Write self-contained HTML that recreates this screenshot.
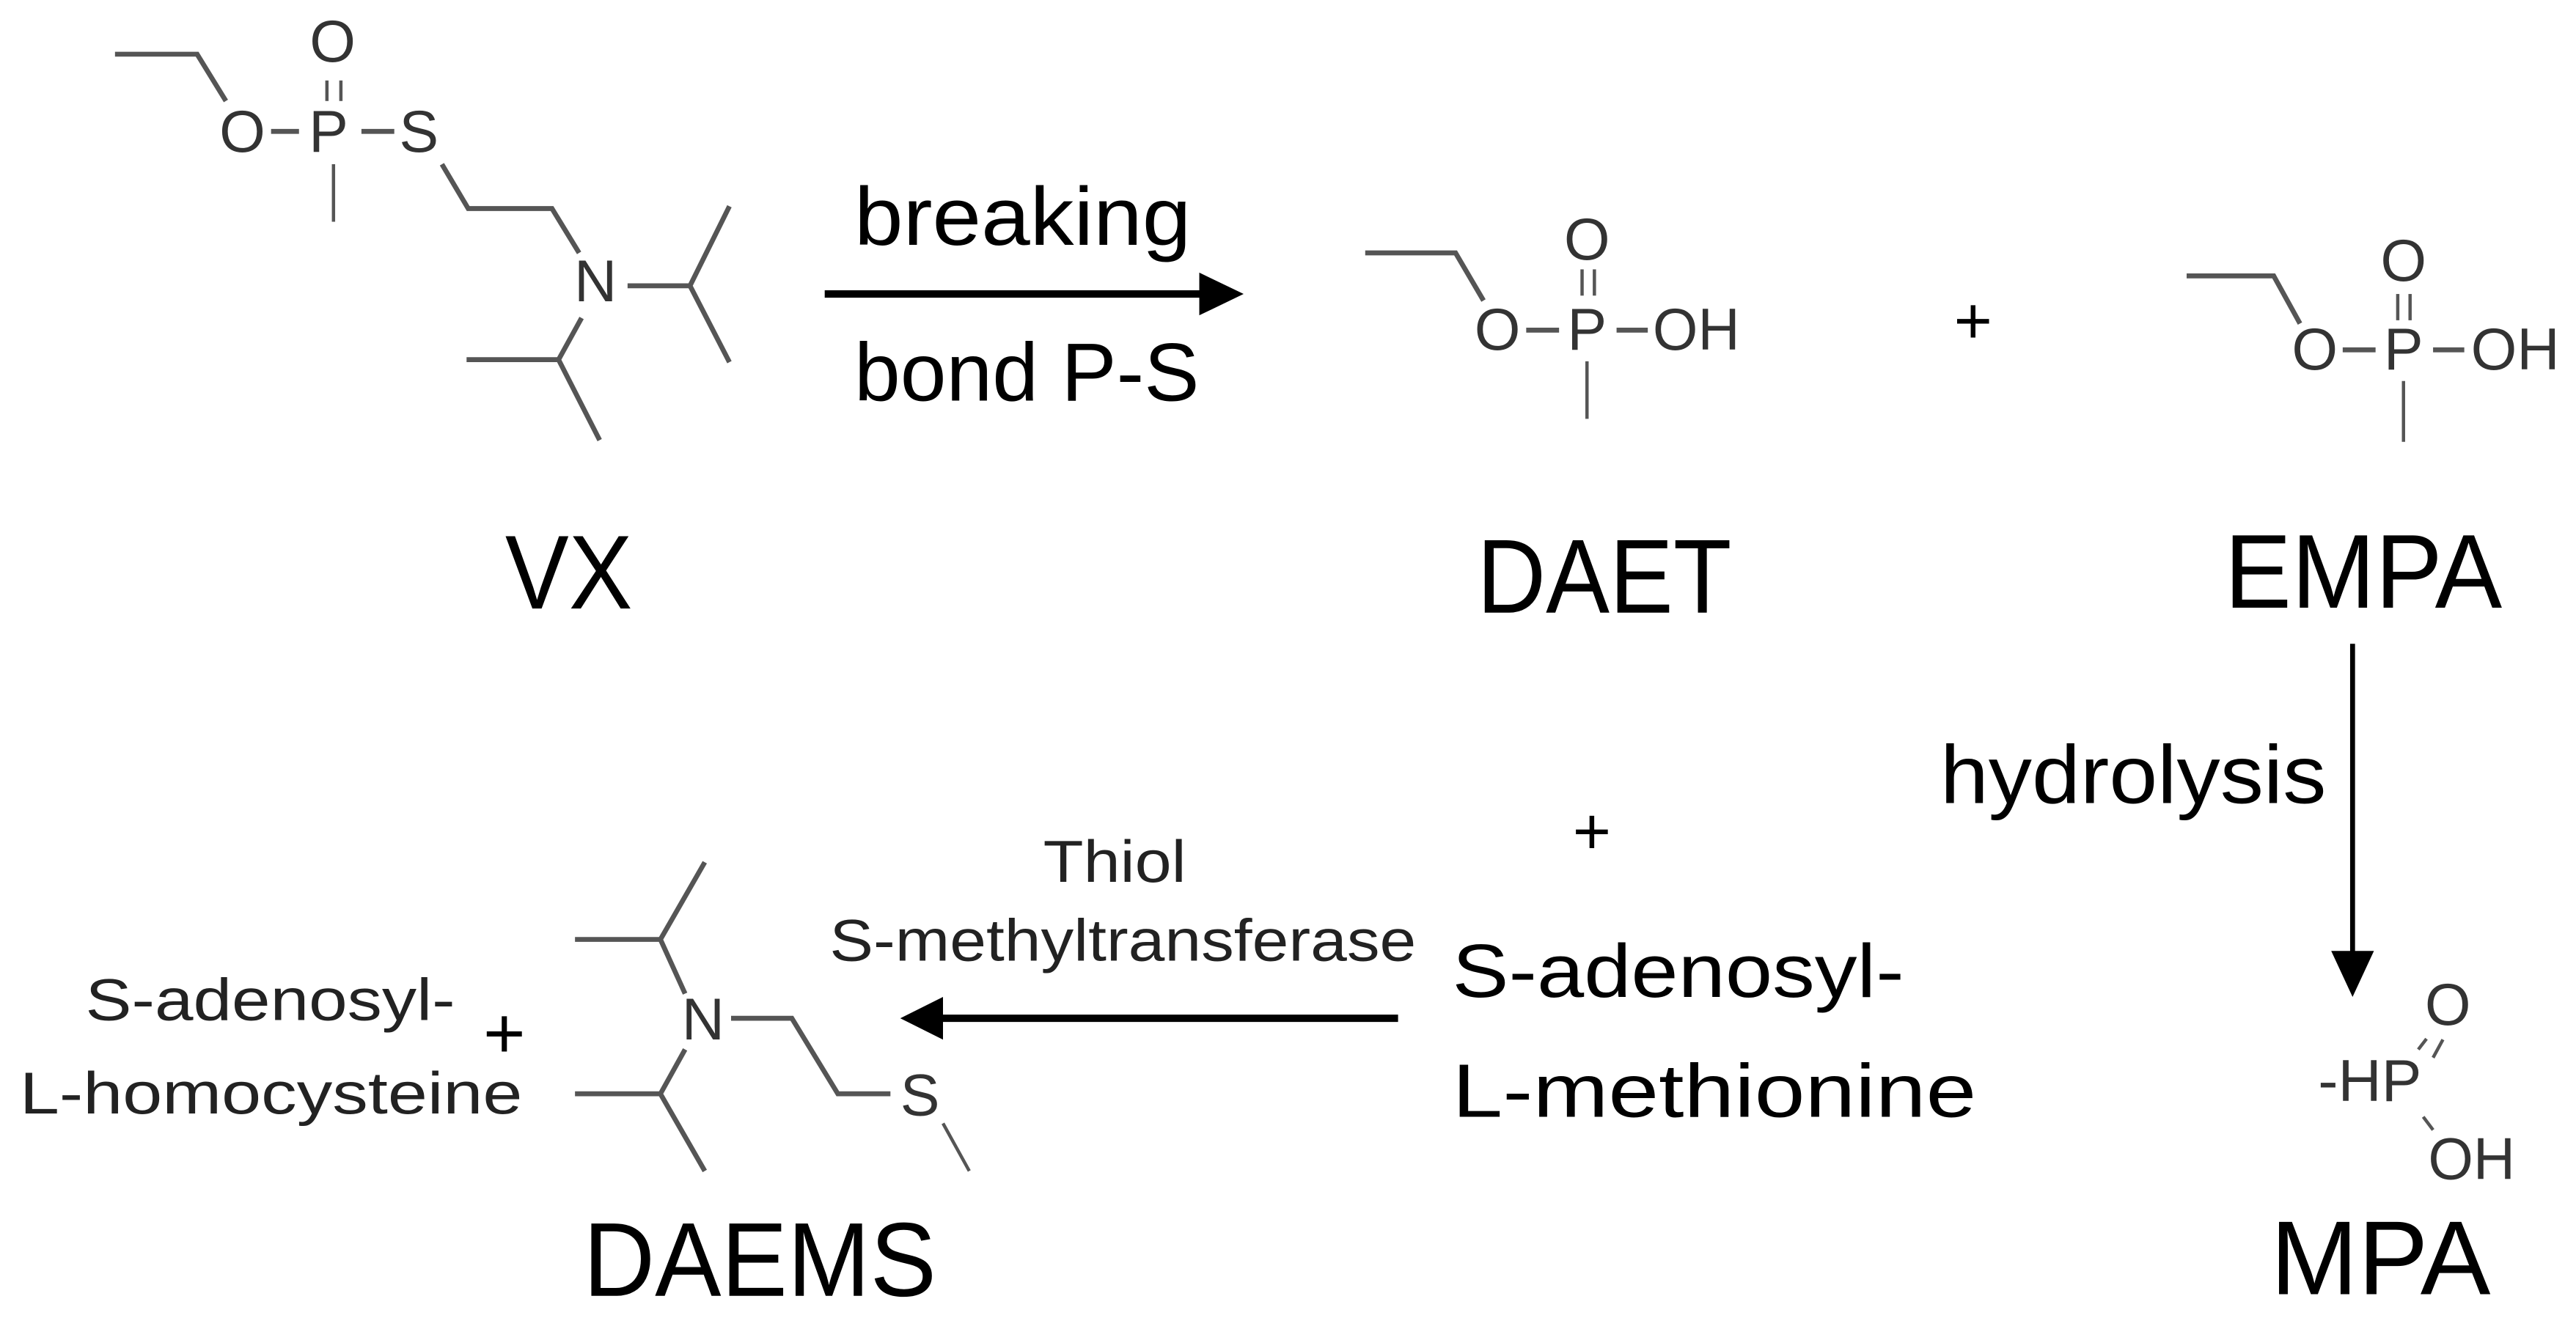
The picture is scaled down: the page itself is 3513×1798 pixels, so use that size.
<!DOCTYPE html>
<html><head><meta charset="utf-8"><style>
html,body{margin:0;padding:0;background:#fff;}
svg{display:block;}
text{font-family:"Liberation Sans",sans-serif;}
</style></head><body>
<svg width="3513" height="1798" viewBox="0 0 1568 802.5" preserveAspectRatio="none" xmlns="http://www.w3.org/2000/svg">
<rect width="1568" height="802.5" fill="#fff"/>
<g stroke="#555" stroke-width="3" fill="none" stroke-linecap="butt">
<!-- VX -->
<polyline points="70,33 120,33 137.5,61.5"/>
<line x1="165" y1="80" x2="182" y2="80"/>
<line x1="220" y1="80" x2="240" y2="80"/>
<line x1="199" y1="49" x2="199" y2="61.5" stroke-width="2"/>
<line x1="207.5" y1="49" x2="207.5" y2="61.5" stroke-width="2"/>
<line x1="203" y1="100" x2="203" y2="135" stroke-width="2"/>
<polyline points="269,100 285,127 336,127 352.5,154"/>
<line x1="382" y1="174" x2="420" y2="174"/>
<polyline points="444,125.6 420,174 444,220.5"/>
<polyline points="354,193.6 340,219 365,268"/>
<line x1="284" y1="219" x2="340" y2="219"/>
<!-- DAET -->
<polyline points="831,154 886,154 903,183"/>
<line x1="929" y1="201" x2="949" y2="201"/>
<line x1="984" y1="201" x2="1003" y2="201"/>
<line x1="963" y1="164" x2="963" y2="180" stroke-width="2"/>
<line x1="970.5" y1="164" x2="970.5" y2="180" stroke-width="2"/>
<line x1="966" y1="220" x2="966" y2="255" stroke-width="2"/>
<!-- EMPA -->
<polyline points="1331,168 1384,168 1400,197"/>
<line x1="1426" y1="213" x2="1446" y2="213"/>
<line x1="1481" y1="213" x2="1500" y2="213"/>
<line x1="1459.5" y1="179" x2="1459.5" y2="195" stroke-width="2"/>
<line x1="1467" y1="179" x2="1467" y2="195" stroke-width="2"/>
<line x1="1463" y1="232" x2="1463" y2="269" stroke-width="2"/>
<!-- MPA -->
<line x1="1472" y1="639" x2="1477" y2="632.5" stroke-width="2"/>
<line x1="1481" y1="644" x2="1487" y2="633" stroke-width="2"/>
<line x1="1475" y1="680" x2="1481" y2="688" stroke-width="2"/>
<!-- DAEMS -->
<line x1="350" y1="572" x2="402" y2="572"/>
<polyline points="429,525 402,572 417,605"/>
<line x1="350" y1="666" x2="402" y2="666"/>
<polyline points="417,639 402,666 429,713"/>
<polyline points="445,620 482,620 510,666 542,666"/>
<line x1="574" y1="684" x2="590" y2="713" stroke-width="2"/>
</g>
<!-- arrows -->
<g fill="#000" stroke="#000">
<line x1="502" y1="179" x2="735" y2="179" stroke-width="4.5"/>
<polygon points="730,166 757,179 730,192" stroke="none"/>
<line x1="1432" y1="392" x2="1432" y2="585" stroke-width="3"/>
<polygon points="1419,579 1445,579 1432,607" stroke="none"/>
<line x1="851" y1="620" x2="570" y2="620" stroke-width="4.5"/>
<polygon points="574,607 548,620 574,633" stroke="none"/>
</g>
<!-- atom labels -->
<g fill="#333" font-size="36" text-anchor="middle">
<text x="147.5" y="92.5">O</text>
<text x="200" y="92.5">P</text>
<text x="255" y="92.5">S</text>
<text x="202.5" y="37.5">O</text>
<text x="362.5" y="183.5">N</text>
<text x="911.5" y="213">O</text>
<text x="966" y="213">P</text>
<text x="1032.5" y="213" textLength="53" lengthAdjust="spacingAndGlyphs">OH</text>
<text x="966" y="158">O</text>
<text x="1409" y="225">O</text>
<text x="1463" y="225">P</text>
<text x="1531" y="225" textLength="54" lengthAdjust="spacingAndGlyphs">OH</text>
<text x="1463" y="171">O</text>
<text x="1490" y="624">O</text>
<text x="1442.5" y="670.5" textLength="63" lengthAdjust="spacingAndGlyphs">-HP</text>
<text x="1504.5" y="718" textLength="53" lengthAdjust="spacingAndGlyphs">OH</text>
<text x="428" y="633">N</text>
<text x="560" y="679">S</text>
</g>
<!-- big labels -->
<g fill="#000" font-size="64">
<text x="307.5" y="370.5" textLength="77.5" lengthAdjust="spacingAndGlyphs">VX</text>
<text x="899" y="373" textLength="155" lengthAdjust="spacingAndGlyphs">DAET</text>
<text x="1354" y="370" textLength="169" lengthAdjust="spacingAndGlyphs">EMPA</text>
<text x="1382" y="788" textLength="134" lengthAdjust="spacingAndGlyphs">MPA</text>
<text x="355" y="789" textLength="215" lengthAdjust="spacingAndGlyphs">DAEMS</text>
</g>
<g fill="#000" font-size="50">
<text x="520" y="149" textLength="205" lengthAdjust="spacingAndGlyphs">breaking</text>
<text x="520" y="244" textLength="210" lengthAdjust="spacingAndGlyphs">bond P-S</text>
<text x="1181" y="489" textLength="235" lengthAdjust="spacingAndGlyphs">hydrolysis</text>
</g>
<g fill="#000" font-size="46">
<text x="884" y="607" textLength="275" lengthAdjust="spacingAndGlyphs">S-adenosyl-</text>
<text x="884" y="680" textLength="319" lengthAdjust="spacingAndGlyphs">L-methionine</text>
</g>
<g fill="#222" font-size="36">
<text x="635" y="537" textLength="87" lengthAdjust="spacingAndGlyphs">Thiol</text>
<text x="505" y="585" textLength="357" lengthAdjust="spacingAndGlyphs">S-methyltransferase</text>
<text x="52" y="621" textLength="225" lengthAdjust="spacingAndGlyphs">S-adenosyl-</text>
<text x="12" y="678" textLength="306" lengthAdjust="spacingAndGlyphs">L-homocysteine</text>
</g>
<g fill="#000" text-anchor="middle">
<text x="1201" y="209" font-size="40">+</text>
<text x="969" y="520" font-size="40">+</text>
<text x="307" y="644" font-size="44">+</text>
</g>
</svg>
</body></html>
